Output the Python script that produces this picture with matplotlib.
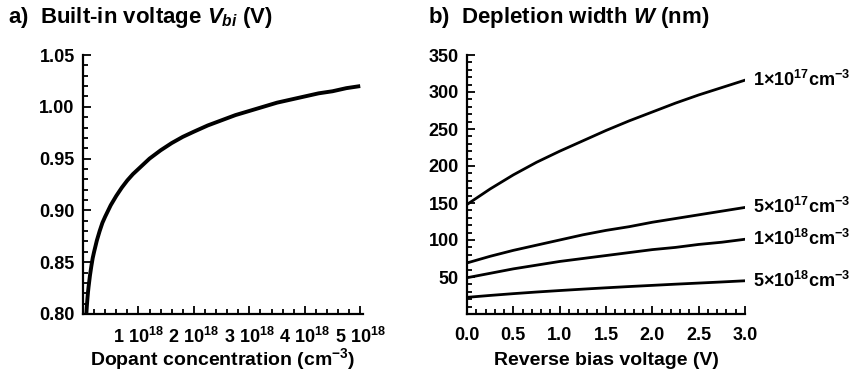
import matplotlib
matplotlib.use("Agg")
import matplotlib.pyplot as plt
from matplotlib.ticker import MultipleLocator

plt.rcParams['font.family'] = ['Liberation Sans', 'DejaVu Sans']
plt.rcParams['font.weight'] = 'bold'
plt.rcParams['mathtext.fontset'] = 'custom'
plt.rcParams['mathtext.rm'] = 'Liberation Sans:bold'
plt.rcParams['mathtext.it'] = 'Liberation Sans:bold:italic'
plt.rcParams['mathtext.bf'] = 'Liberation Sans:bold'

# ---- Panel a data: built-in voltage vs dopant concentration (units of 1e18 cm^-3) ----
dopant_e18 = [0.06, 0.07, 0.08, 0.09, 0.10, 0.125, 0.15, 0.175, 0.20, 0.25, 0.30, 0.35,
              0.40, 0.50, 0.60, 0.70, 0.80, 0.90, 1.0, 1.2, 1.4, 1.6, 1.8, 2.0,
              2.25, 2.5, 2.75, 3.0, 3.25, 3.5, 3.75, 4.0, 4.25, 4.5, 4.75, 5.0]
vbi = [0.800, 0.808, 0.815, 0.821, 0.826, 0.837, 0.846, 0.854, 0.860, 0.871, 0.880, 0.888,
       0.894, 0.905, 0.914, 0.922, 0.929, 0.935, 0.940, 0.950, 0.958, 0.965, 0.971, 0.976,
       0.982, 0.987, 0.992, 0.996, 1.000, 1.004, 1.007, 1.010, 1.013, 1.015, 1.018, 1.020]
a_tick_vals = [1, 2, 3, 4, 5]
a_tick_labels = ["1 10$^{18}$", "2 10$^{18}$", "3 10$^{18}$", "4 10$^{18}$", "5 10$^{18}$"]
a_ytick_vals = [0.80, 0.85, 0.90, 0.95, 1.00, 1.05]
a_ytick_labels = ["0.80", "0.85", "0.90", "0.95", "1.00", "1.05"]

# ---- Panel b data: depletion width vs reverse bias ----
bias_v = [0.0, 0.25, 0.5, 0.75, 1.0, 1.25, 1.5, 1.75, 2.0, 2.25, 2.5, 2.75, 3.0]
w_1e17 = [148, 169, 188, 205, 220, 234, 248, 261, 273, 285, 296, 306, 316]
w_5e17 = [69, 78, 86, 93, 100, 107, 113, 118, 124, 129, 134, 139, 144]
w_1e18 = [49, 55, 61, 66, 71, 75, 79, 83, 87, 90, 94, 97, 101]
w_5e18 = [22.5, 25.1, 27.5, 29.7, 31.7, 33.6, 35.4, 37.1, 38.7, 40.3, 41.8, 43.3, 44.9]
w_series = [w_1e17, w_5e17, w_1e18, w_5e18]
w_labels = ["1\u00d710$^{17}$cm$^{-3}$", "5\u00d710$^{17}$cm$^{-3}$",
            "1\u00d710$^{18}$cm$^{-3}$", "5\u00d710$^{18}$cm$^{-3}$"]
b_xtick_vals = [0.0, 0.5, 1.0, 1.5, 2.0, 2.5, 3.0]
b_xtick_labels = ["0.0", "0.5", "1.0", "1.5", "2.0", "2.5", "3.0"]
b_ytick_vals = [50, 100, 150, 200, 250, 300, 350]

W, H = 851, 377
fig = plt.figure(figsize=(W / 100, H / 100), dpi=100)

def rect(l, r, t, b):
    return [l / W, (H - b) / H, (r - l) / W, (b - t) / H]

axa = fig.add_axes(rect(83, 363, 55, 314))
axb = fig.add_axes(rect(467, 745, 55, 314))

# Panel a
axa.plot(dopant_e18, vbi, color='black', lw=2.8, solid_capstyle='butt')
axa.set_xlim(0, 5.05)
axa.set_ylim(0.80, 1.05)
axa.set_xticks(a_tick_vals)
axa.set_xticklabels(a_tick_labels)
axa.xaxis.set_minor_locator(MultipleLocator(0.2))
axa.set_yticks(a_ytick_vals)
axa.set_yticklabels(a_ytick_labels)
axa.yaxis.set_minor_locator(MultipleLocator(0.01))
axa.set_xlabel("Dopant concentration (cm$^{-3}$)", fontsize=14, fontweight='bold', labelpad=0)

# Panel b
for ys, lab in zip(w_series, w_labels):
    axb.plot(bias_v, ys, color='black', lw=2.0)
    axb.annotate(lab, xy=(bias_v[-1], ys[-1]), xytext=(6, 0), textcoords='offset points',
                 ha='left', va='center', fontsize=13, fontweight='bold', annotation_clip=False)
axb.set_xlim(0, 3.0)
axb.set_ylim(0, 350)
axb.set_xticks(b_xtick_vals)
axb.set_xticklabels(b_xtick_labels)
axb.xaxis.set_minor_locator(MultipleLocator(0.1))
axb.set_yticks(b_ytick_vals)
axb.yaxis.set_minor_locator(MultipleLocator(10))
axb.set_xlabel("Reverse bias voltage (V)", fontsize=14, fontweight='bold', labelpad=6)

for ax in (axa, axb):
    ax.spines['top'].set_visible(False)
    ax.spines['right'].set_visible(False)
    ax.spines['left'].set_linewidth(1.6)
    ax.spines['bottom'].set_linewidth(1.6)
    ax.tick_params(which='both', direction='in', width=1.3, labelsize=13)
    ax.tick_params(which='major', length=6, pad=6)
    ax.tick_params(which='minor', length=3.5)
    ax.tick_params(axis='x', which='major', pad=9)
    for lab in ax.get_xticklabels() + ax.get_yticklabels():
        lab.set_fontweight('bold')

fig.text(8 / W, 1 - 18 / H, "a)  Built-in voltage $V_{bi}$ (V)", fontsize=16,
         fontweight='bold', ha='left', va='center')
fig.text(428 / W, 1 - 18 / H, "b)  Depletion width $W$ (nm)", fontsize=16,
         fontweight='bold', ha='left', va='center')

fig.savefig("out.png", dpi=100)
